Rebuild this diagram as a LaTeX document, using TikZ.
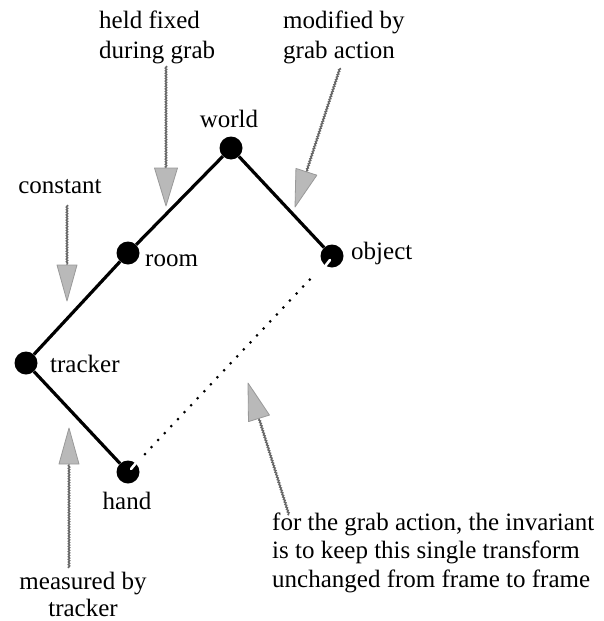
\documentclass[tikz,border=0pt]{standalone}
\usepackage{fontspec}
\setmainfont{Liberation Serif}
\usetikzlibrary{calc,decorations.pathmorphing}
\newcommand{\grayarrow}[4]{%
  \coordinate (gab) at ($(#2)!#3!(#1)$);
  \draw[shaft] (#1) -- (gab);
  \filldraw[headfill] (#2) -- ($(gab)!#4!90:(#2)$) -- ($(gab)!#4!-90:(#2)$) -- cycle;}
\begin{document}
\begin{tikzpicture}[x=1pt,y=-1pt,
  dot/.style={circle,fill=black,inner sep=0pt,minimum size=23pt},
  link/.style={line width=3.2pt},
  lbl/.style={font=\fontsize{25}{28.5}\selectfont,inner sep=0pt},
  shaft/.style={draw=black!60,line width=1.4pt,decorate,decoration={snake,amplitude=0.7pt,segment length=2.6pt}},
  headfill/.style={fill=gray!55,draw=gray!80,line width=0.8pt,line join=round}]
\useasboundingbox[fill=white] (0,0) rectangle (604,621);

% frames
\node[dot] (world)   at (231,148) {};
\node[dot] (room)    at (128,253) {};
\node[dot] (object)  at (332,256) {};
\node[dot] (tracker) at (26,363) {};
\node[dot] (hand)    at (128,472) {};

% notches
\draw[white,line width=2.6pt,line cap=round] ($(object)+(-2,4)$) -- ($(object)+(-6,9)$);
\draw[white,line width=2.6pt,line cap=round] ($(hand)+(3,-3)$) -- ($(hand)+(8,-9)$);

% transforms
\draw[link] (world) -- (room);
\draw[link] (world) -- (object);
\draw[link] (room) -- (tracker);
\draw[link] (tracker) -- (hand);
\draw[line width=3pt,dash pattern=on 0pt off 9.6pt,line cap=round,shorten <=13pt,shorten >=13pt] (hand) -- (object);

% frame labels
\node[lbl,anchor=base] (lworld) at (229,127) {world};
\node[lbl,anchor=base west] (lroom) at (145,266) {room};
\node[lbl,anchor=base west] (lobject) at (351,259) {object};
\node[lbl,anchor=base west] (ltracker) at (50,372) {tracker};
\node[lbl,anchor=base] (lhand) at (127,509) {hand};

% annotations
\node[lbl,anchor=base west] (held1) at (99,28) {held fixed};
\node[lbl,anchor=base west] (held2) at (99,58) {during grab};
\node[lbl,anchor=base west] (mod1) at (283,28) {modified by};
\node[lbl,anchor=base west] (mod2) at (283,58) {grab action};
\node[lbl,anchor=base] (const) at (60,193) {constant};
\node[lbl,anchor=base] (meas1) at (83,589) {measured by};
\node[lbl,anchor=base] (meas2) at (83,616) {tracker};
\node[lbl,anchor=base west] (inv1) at (272,530) {for the grab action, the invariant};
\node[lbl,anchor=base west] (inv2) at (272,558.5) {is to keep this single transform};
\node[lbl,anchor=base west] (inv3) at (272,587) {unchanged from frame to frame};

% arrows
\coordinate (heldT) at (166,66);   \coordinate (heldH) at (166,206);
\coordinate (constT) at (67,205);  \coordinate (constH) at (67,301);
\coordinate (modT) at (340,68);    \coordinate (modH) at (295,207);
\coordinate (invT) at (289,515);   \coordinate (invH) at (248,383);
\coordinate (measT) at (69,568);   \coordinate (measH) at (69,428);
\grayarrow{heldT}{heldH}{38pt}{11.5pt}
\grayarrow{constT}{constH}{36pt}{10pt}
\grayarrow{modT}{modH}{37pt}{11pt}
\grayarrow{invT}{invH}{37pt}{11pt}
\grayarrow{measT}{measH}{36pt}{10pt}
\end{tikzpicture}
\end{document}
